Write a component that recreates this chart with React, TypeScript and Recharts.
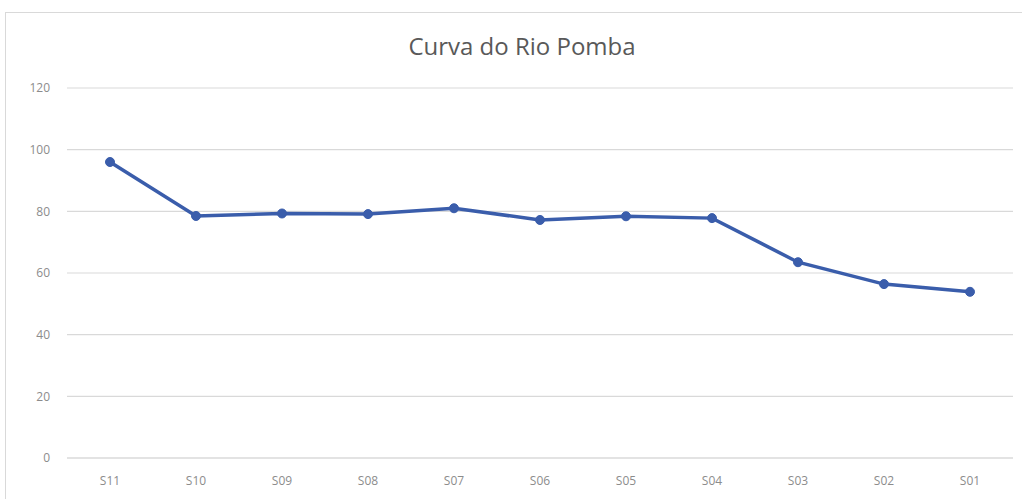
import { LineChart, Line, XAxis, YAxis, CartesianGrid } from "recharts";

const stations = ["S11", "S10", "S09", "S08", "S07", "S06", "S05", "S04", "S03", "S02", "S01"];
const levels = [96.0, 78.5, 79.3, 79.1, 81.0, 77.2, 78.4, 77.8, 63.5, 56.4, 53.9];
const yTicks = [0, 20, 40, 60, 80, 100, 120];

const data = stations.map((name, i) => ({ name, value: levels[i] }));

const tickStyle = { fontSize: 12, fill: "#8c8c8c", fontFamily: "Open Sans, sans-serif" };

export default function App() {
  return (
    <div style={{ position: "absolute", left: 0, top: 0, width: 1022, height: 499, background: "#fff", overflow: "hidden" }}>
      <div
        style={{
          position: "absolute",
          left: 5,
          top: 12,
          width: 1030,
          height: 500,
          borderLeft: "1px solid #d9d9d9",
          borderTop: "1px solid #d9d9d9",
        }}
      />
      <div
        style={{
          position: "absolute",
          left: 0,
          width: 1044,
          top: 29,
          textAlign: "center",
          fontFamily: "Open Sans, sans-serif",
          fontSize: 24,
          color: "#595959",
        }}
      >
        Curva do Rio Pomba
      </div>
      <div style={{ position: "absolute", left: 0, top: 0 }}>
        <LineChart width={1022} height={499} data={data} margin={{ top: 88, right: 9, bottom: 0, left: 0 }}>
          <CartesianGrid vertical={false} stroke="#d9d9d9" strokeWidth={1.2} />
          <XAxis
            dataKey="name"
            height={41}
            padding={{ left: 43, right: 43 }}
            axisLine={{ stroke: "#d9d9d9", strokeWidth: 1.2 }}
            tickLine={false}
            tick={tickStyle}
            tickMargin={12}
          />
          <YAxis
            width={67}
            domain={[0, 120]}
            ticks={yTicks}
            axisLine={false}
            tickLine={false}
            tick={tickStyle}
            tickMargin={11}
          />
          <Line
            type="linear"
            dataKey="value"
            stroke="#3a5dab"
            strokeWidth={3.5}
            dot={{ r: 4.5, fill: "#3a5dab", stroke: "#3a5dab", strokeWidth: 1 }}
            isAnimationActive={false}
          />
        </LineChart>
      </div>
    </div>
  );
}
